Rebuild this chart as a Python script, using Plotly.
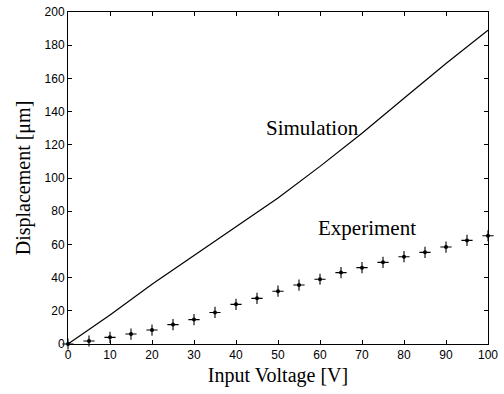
import plotly.graph_objects as go

sim_voltage = [0, 10, 20, 30, 40, 50, 60, 70, 80, 90, 100]
sim_disp = [0, 17.5, 36, 53.5, 70.5, 88, 107, 127, 148, 169, 189]

exp_voltage = [0, 5, 10, 15, 20, 25, 30, 35, 40, 45, 50, 55, 60, 65, 70, 75, 80, 85, 90, 95, 100]
exp_disp = [0, 1.8, 4, 6, 8.4, 11.7, 14.7, 19, 23.9, 27.5, 31.8, 35.5, 39, 43, 46, 49.2, 52.6, 55.2, 58.4, 62.4, 65.2]

x_ticks = [0, 10, 20, 30, 40, 50, 60, 70, 80, 90, 100]
y_ticks = [0, 20, 40, 60, 80, 100, 120, 140, 160, 180, 200]

fig = go.Figure()
fig.add_trace(go.Scatter(x=sim_voltage, y=sim_disp, mode="lines",
                         line=dict(color="black", width=1.2), showlegend=False))
fig.add_trace(go.Scatter(x=exp_voltage, y=exp_disp, mode="markers",
                         marker=dict(symbol="cross-thin-open", size=8, color="black",
                                     line=dict(color="black", width=1.1)),
                         showlegend=False, cliponaxis=False))
fig.add_trace(go.Scatter(x=exp_voltage, y=exp_disp, mode="markers",
                         marker=dict(symbol="circle", size=4, color="black"),
                         showlegend=False, cliponaxis=False))

fig.add_annotation(x=58.3, y=130, text="Simulation", showarrow=False,
                   font=dict(family="Liberation Serif", size=21, color="black"))
fig.add_annotation(x=71.2, y=69.9, text="Experiment", showarrow=False,
                   font=dict(family="Liberation Serif", size=21, color="black"))

axis_common = dict(showline=True, linecolor="black", linewidth=1, mirror="ticks",
                   ticks="inside", ticklen=4, tickcolor="black", showgrid=False,
                   zeroline=False, automargin=False,
                   tickfont=dict(family="Liberation Sans", size=12, color="black"))

fig.update_xaxes(range=[0, 100], tickvals=x_ticks,
                 title=dict(text="Input Voltage [V]", standoff=6,
                            font=dict(family="Liberation Serif", size=20, color="black")),
                 **axis_common)
fig.update_yaxes(range=[0, 200], tickvals=y_ticks,
                 title=dict(text="Displacement [μm]", standoff=8,
                            font=dict(family="Liberation Serif", size=20, color="black")),
                 **axis_common)

fig.update_layout(width=504, height=394, plot_bgcolor="white", paper_bgcolor="white",
                  margin=dict(l=68, r=16, t=12, b=50))

fig.write_html("out.html", config={"displayModeBar": False},
               post_script="document.body.style.margin='0';")
